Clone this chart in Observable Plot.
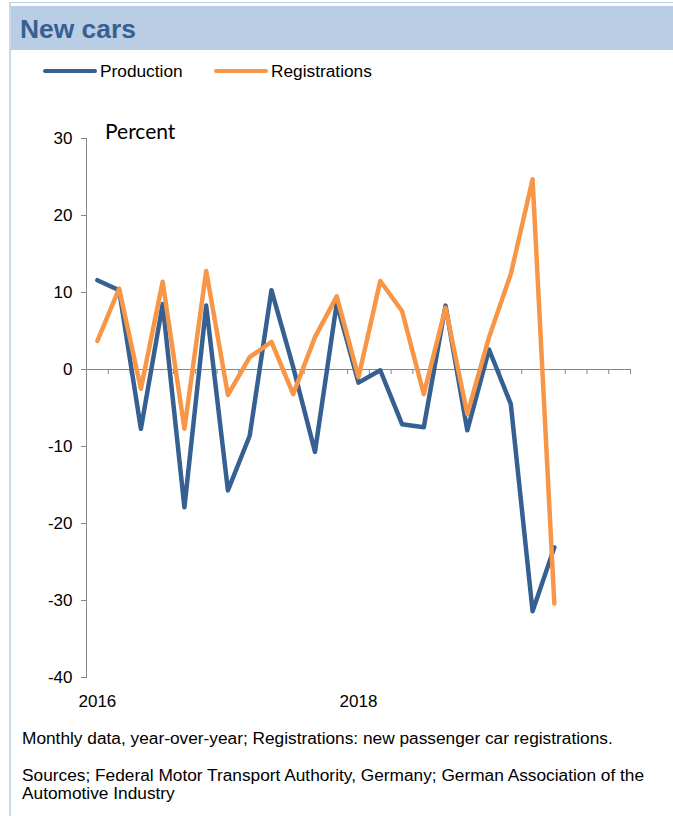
<!DOCTYPE html>
<html>
<head>
<meta charset="utf-8">
<script src="https://cdn.jsdelivr.net/npm/d3@7"></script>
<script src="https://cdn.jsdelivr.net/npm/@observablehq/plot@0.6"></script>
<style>
  html, body { margin: 0; padding: 0; background: #fff; }
  body { font-family: "Liberation Sans", Arial, sans-serif; color: #000; }
  #page { position: relative; width: 673px; height: 816px; overflow: hidden; background: #fff; }
  .topline { position: absolute; left: 9px; right: 0; top: 2px; height: 1px; background: #b9cde5; }
  .leftline { position: absolute; left: 9px; top: 2px; bottom: 0; width: 2px; background: #c6d8ee; }
  .header { position: absolute; left: 10px; right: 0; top: 6px; height: 44px; background: #b9cde5; }
  .txt { position: absolute; white-space: nowrap; line-height: 1; }
  .title { left: 20px; top: 16px; font-size: 26.4px; font-weight: bold; color: #376092; }
  .swatch { position: absolute; height: 4px; border-radius: 2px; }
  .leg { font-size: 17.3px; }
  .foot { font-size: 17.3px; }
  .percent { font-family: Lato, "Open Sans", sans-serif; font-size: 21px; }
  #chart { position: absolute; left: 0; top: 100px; }
</style>
</head>
<body>
<div id="page">
  <div class="topline"></div>
  <div class="header"></div>
  <div class="leftline"></div>
  <div class="txt title" id="title"></div>
  <div id="legend"></div>
  <div class="txt percent" id="unit" style="left:105px; top:120px;"></div>
  <div id="chart"></div>
  <div class="txt foot" id="note" style="left:22px; top:730px;"></div>
  <div class="txt foot" id="src1" style="left:22px; top:767px;"></div>
  <div class="txt foot" id="src2" style="left:22px; top:785px;"></div>
</div>
<script>
// ---- Data ----
const titleText = "New cars";
const unitText = "Percent";
const seriesNames = ["Production", "Registrations"];
const seriesColors = ["#376092", "#f79646"];
// Year-over-year change, percent (one value per category, starting 2016)
const production = [11.6, 10.3, -7.7, 8.5, -17.9, 8.3, -15.7, -8.6, 10.3, 0.3, -10.7, 8.6,
                    -1.7, -0.1, -7.1, -7.5, 8.3, -7.9, 2.6, -4.5, -31.4, -23.1];
const registrations = [3.7, 10.5, -2.5, 11.4, -7.7, 12.8, -3.3, 1.6, 3.6, -3.2, 4.2, 9.5,
                       -1.0, 11.5, 7.6, -3.2, 8.0, -5.8, 4.2, 12.4, 24.7, -30.4];
const categoryCount = 25;              // categories on the x axis
const yearLabels = ["2016", "2018"];    // x tick labels
const yearLabelCategory = [0, 12];      // category index of each year label
const yTicks = [-40, -30, -20, -10, 0, 10, 20, 30];
const noteText = "Monthly data, year-over-year; Registrations: new passenger car registrations.";
const sourceLines = ["Sources; Federal Motor Transport Authority, Germany; German Association of the",
                     "Automotive Industry"];

// ---- Texts ----
document.getElementById("title").textContent = titleText;
document.getElementById("unit").textContent = unitText;
document.getElementById("note").textContent = noteText;
document.getElementById("src1").textContent = sourceLines[0];
document.getElementById("src2").textContent = sourceLines[1];

// ---- Legend ----
const legend = document.getElementById("legend");
const legendX = [43, 214];
seriesNames.forEach((name, k) => {
  const sw = document.createElement("div");
  sw.className = "swatch";
  sw.style.left = legendX[k] + "px";
  sw.style.width = "54px";
  sw.style.top = "69px";
  sw.style.background = seriesColors[k];
  legend.appendChild(sw);
  const t = document.createElement("div");
  t.className = "txt leg";
  t.style.left = (legendX[k] + 57) + "px";
  t.style.top = "63px";
  t.textContent = name;
  legend.appendChild(t);
});

// ---- Table for Plot ----
const rows = [];
production.forEach((v, i) => rows.push({series: seriesNames[0], i, value: v}));
registrations.forEach((v, i) => rows.push({series: seriesNames[1], i, value: v}));
const boundaries = d3.range(categoryCount + 1).map(k => k - 0.5);
const axisColor = "#868686";

const chart = Plot.plot({
  width: 673,
  height: 620,
  marginTop: 38,
  marginBottom: 43,
  marginLeft: 86,
  marginRight: 43,
  style: {fontFamily: "'Liberation Sans', Arial, sans-serif", fontSize: "17px", background: "transparent", color: "#000"},
  x: {domain: [-0.5, categoryCount - 0.5], axis: null},
  y: {domain: [-40, 30], axis: null},
  color: {domain: seriesNames, range: seriesColors},
  marks: [
    Plot.frame({anchor: "left", stroke: axisColor, strokeWidth: 1}),
    Plot.axisY({ticks: yTicks, tickSize: 5, tickPadding: 9, stroke: axisColor, fill: "#000",
                tickFormat: d => String(d), label: null, fontSize: 17}),
    Plot.ruleY([0], {stroke: axisColor, strokeWidth: 1.2}),
    Plot.ruleX(boundaries, {y1: 0, y2: 0, insetBottom: -5, stroke: axisColor}),
    Plot.axisX({ticks: yearLabelCategory, tickSize: 0, tickPadding: 17, label: null, fontSize: 17, fill: "#000",
                tickFormat: d => yearLabels[yearLabelCategory.indexOf(d)]}),
    Plot.line(rows.filter(d => d.series === seriesNames[0]), {x: "i", y: "value", stroke: "series",
              strokeWidth: 4.5, strokeLinejoin: "round", strokeLinecap: "round"}),
    Plot.line(rows.filter(d => d.series === seriesNames[1]), {x: "i", y: "value", stroke: "series",
              strokeWidth: 4.5, strokeLinejoin: "round", strokeLinecap: "round"})
  ]
});
document.getElementById("chart").appendChild(chart);
</script>
</body>
</html>
